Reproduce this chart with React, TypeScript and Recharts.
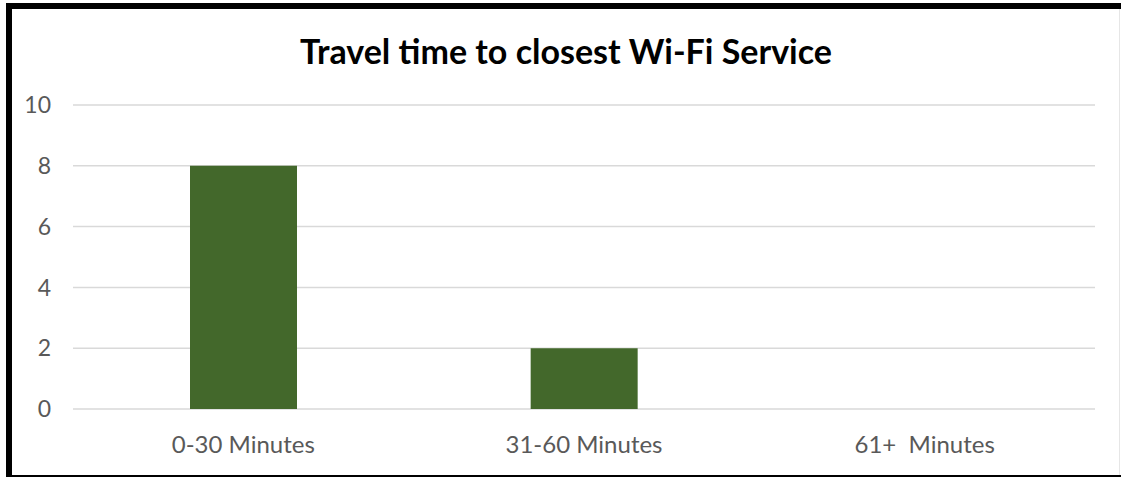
import React from 'react';
import { BarChart, Bar, XAxis, YAxis, CartesianGrid } from 'recharts';

const categories = ['0-30 Minutes', '31-60 Minutes', '61+\u00a0 Minutes'];
const counts = [8, 2, 0];
const yTicks = [0, 2, 4, 6, 8, 10];

const data = categories.map((name, i) => ({ name, value: counts[i] }));

const FONT = 'Lato, "Open Sans", sans-serif';
const BAR_GREEN = '#43682b';

const App: React.FC = () => {
  return (
    <div style={{ position: 'absolute', left: 0, top: 0, width: 1121, height: 477, background: '#fff', overflow: 'hidden' }}>
      {/* frame */}
      <div style={{ position: 'absolute', left: 6, top: 3, width: 6, height: 474, background: '#000' }} />
      <div style={{ position: 'absolute', left: 6, top: 3, width: 1115, height: 6, background: '#000' }} />
      <div style={{ position: 'absolute', left: 6, top: 475, width: 1115, height: 2, background: '#000' }} />
      <div style={{ position: 'absolute', left: 1119, top: 9, width: 1, height: 466, background: '#e6e6e6' }} />

      <div
        style={{
          position: 'absolute',
          left: 0,
          top: 29,
          width: 1132,
          textAlign: 'center',
          fontFamily: FONT,
          fontWeight: 700,
          fontSize: 34,
          color: '#000',
          lineHeight: '44px',
        }}
      >
        Travel time to closest Wi-Fi Service
      </div>

      <BarChart
        width={1121}
        height={477}
        data={data}
        margin={{ top: 105, right: 26, bottom: 0, left: 0 }}
        barSize={107}
      >
        <CartesianGrid vertical={false} stroke="#d9d9d9" strokeWidth={1.5} />
        <XAxis
          dataKey="name"
          height={68}
          axisLine={false}
          tickLine={false}
          tickSize={0}
          tickMargin={27}
          tick={{ fill: '#595959', fontSize: 24, fontFamily: FONT }}
        />
        <YAxis
          width={73}
          domain={[0, 10]}
          ticks={yTicks}
          axisLine={false}
          tickLine={false}
          tickSize={0}
          tickMargin={22}
          tick={{ fill: '#595959', fontSize: 23, fontFamily: FONT }}
        />
        <Bar dataKey="value" fill={BAR_GREEN} isAnimationActive={false} />
      </BarChart>
    </div>
  );
};

export default App;
